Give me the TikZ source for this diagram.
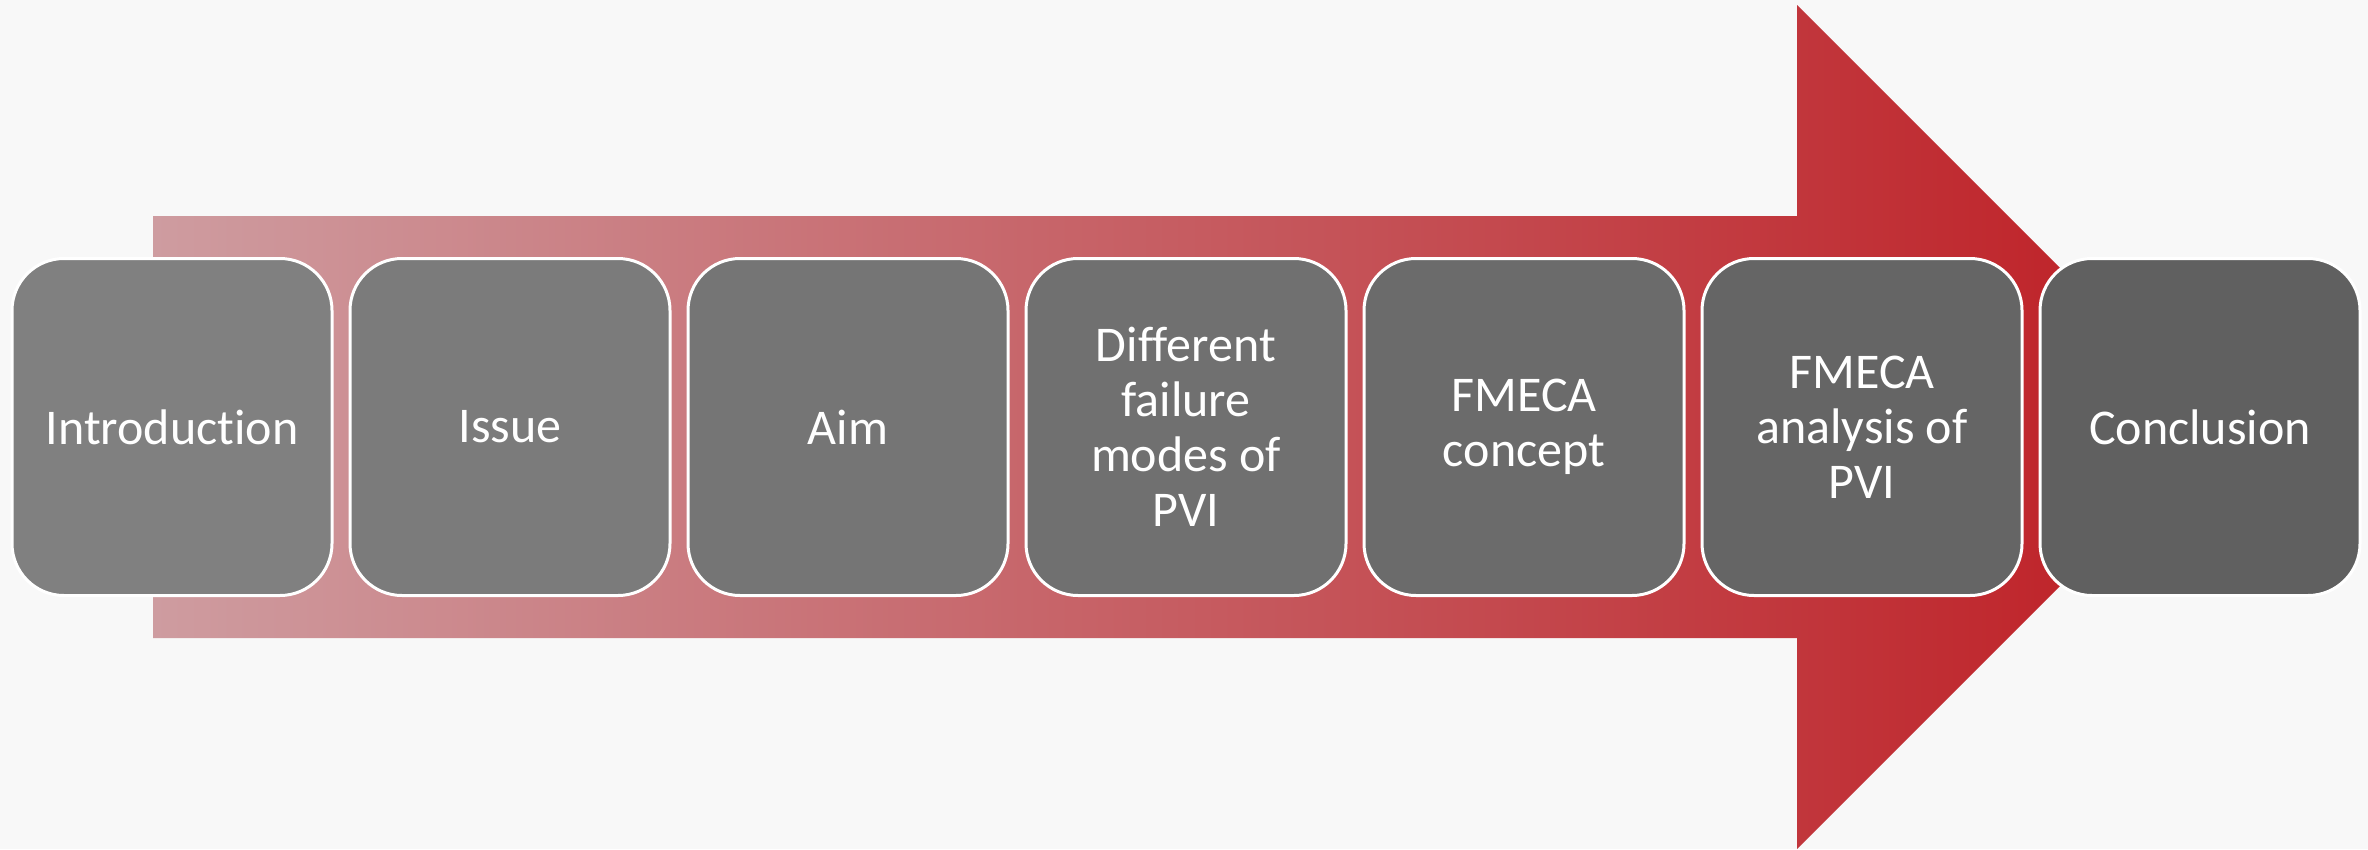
\documentclass[tikz,border=0pt]{standalone}
\usepackage{fontspec}
\setmainfont{Carlito}[RawFeature={-liga;-clig;-calt;-dlig}]
\begin{document}
\begin{tikzpicture}[x=1pt,y=-1pt,
  stage/.style={draw=white, line width=3pt, rounded corners=52pt,
    minimum width=320pt, minimum height=337pt, inner sep=0pt,
    text=white, align=center,
    font=\fontsize{50pt}{55pt}\selectfont},
]
\definecolor{bg}{RGB}{248,248,248}
\definecolor{arrowL}{RGB}{206,156,160}
\definecolor{arrowR}{RGB}{190,28,34}
\definecolor{g1}{RGB}{128,128,128}
\definecolor{g2}{RGB}{123,123,123}
\definecolor{g3}{RGB}{117,117,117}
\definecolor{g4}{RGB}{112,112,112}
\definecolor{g5}{RGB}{107,107,107}
\definecolor{g6}{RGB}{101,101,101}
\definecolor{g7}{RGB}{96,96,96}

% canvas
\fill[bg] (0,0) rectangle (2368,849);
\useasboundingbox (0,0) rectangle (2368,849);

% large background arrow
\shade[left color=arrowL, right color=arrowR]
  (153,216) -- (1797,216) -- (1797,5) -- (2219,427) -- (1797,849)
  -- (1797,638) -- (153,638) -- cycle;

% process stages
\node[stage, fill=g1] (s1) at (172,427) {Introduction};
\node[stage, fill=g2] (s2) at (510,427) {Issue};
\node[stage, fill=g3] (s3) at (848,427) {Aim};
\node[stage, fill=g4] (s4) at (1186,427) {Different\\failure\\modes of\\PVI};
\node[stage, fill=g5] (s5) at (1524,427) {FMECA\\concept};
\node[stage, fill=g6] (s6) at (1862,427) {FMECA\\analysis of\\PVI};
\node[stage, fill=g7] (s7) at (2200,427) {Conclusion};
\end{tikzpicture}
\end{document}
